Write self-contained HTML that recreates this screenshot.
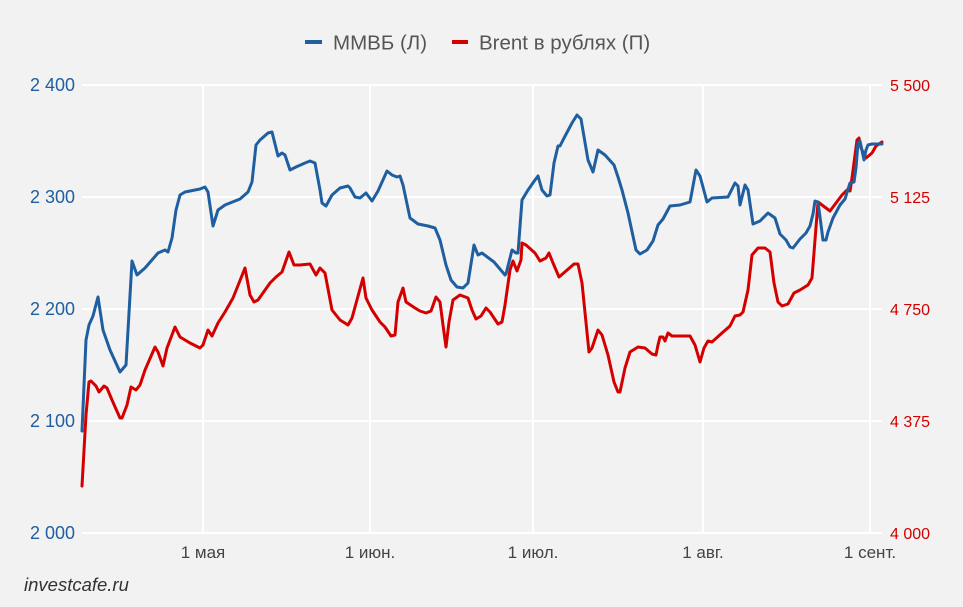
<!DOCTYPE html>
<html><head><meta charset="utf-8"><style>
html,body{margin:0;padding:0;background:#f2f2f2;}
svg{display:block;font-family:"Liberation Sans",sans-serif;}
</style></head><body>
<svg width="963" height="607" viewBox="0 0 963 607">
<rect width="963" height="607" fill="#f2f2f2"/>
<g stroke="#ffffff" stroke-width="2">
<line x1="82" y1="85" x2="882" y2="85"/>
<line x1="82" y1="197" x2="882" y2="197"/>
<line x1="82" y1="309" x2="882" y2="309"/>
<line x1="82" y1="421" x2="882" y2="421"/>
<line x1="82" y1="533" x2="882" y2="533"/>
<line x1="203" y1="85" x2="203" y2="533"/>
<line x1="370" y1="85" x2="370" y2="533"/>
<line x1="533" y1="85" x2="533" y2="533"/>
<line x1="703" y1="85" x2="703" y2="533"/>
<line x1="870" y1="85" x2="870" y2="533"/>
</g>
<g fill="#1f5fa0" font-size="18" text-anchor="end">
<text x="75" y="91">2 400</text><text x="75" y="203">2 300</text><text x="75" y="315">2 200</text><text x="75" y="427">2 100</text><text x="75" y="539">2 000</text>
</g>
<g fill="#d40000" font-size="16" text-anchor="start">
<text x="890" y="91">5 500</text><text x="890" y="203">5 125</text><text x="890" y="315">4 750</text><text x="890" y="427">4 375</text><text x="890" y="539">4 000</text>
</g>
<g fill="#444" font-size="17" text-anchor="middle">
<text x="203" y="558">1 мая</text><text x="370" y="558">1 июн.</text><text x="533" y="558">1 июл.</text><text x="703" y="558">1 авг.</text><text x="870" y="558">1 сент.</text>
</g>
<line x1="305" y1="42" x2="322" y2="42" stroke="#1f5fa0" stroke-width="4"/>
<text x="333" y="49.5" font-size="20.5" fill="#555">ММВБ (Л)</text>
<line x1="452" y1="42" x2="468" y2="42" stroke="#d40000" stroke-width="4"/>
<text x="479" y="49.5" font-size="20.5" fill="#555">Brent в рублях (П)</text>
<text x="24" y="591" font-size="18.5" font-style="italic" fill="#333">investcafe.ru</text>
<g fill="none" stroke-width="3" stroke-linejoin="round" stroke-linecap="round">
<polyline stroke="#d40000" points="82,486 86,415 89,382 91,381 96,386 99,392 104,386 107,388 112,400 120,418 122,418 127,405 131,387 136,390 140,385 145,370 155,347 158,352 163,366 167,348 175,327 180,337 190,343 200,348 203,345 208,330 212,336 218,323 225,312 233,298 245,268 250,295 254,302 258,300 270,283 276,277 282,272 289,252 294,265 300,265 310,264 316,275 320,268 325,273 332,310 340,320 348,325 352,318 363,278 366,298 372,310 380,322 385,327 391,336 395,335 398,302 403,288 406,302 415,308 420,311 426,313 431,311 436,297 440,302 443,325 446,347 449,322 453,300 460,295 468,298 472,310 476,319 481,316 486,308 490,312 494,318 498,324 502,322 505,305 510,270 513,261 517,271 521,260 522,243 526,245 535,253 540,261 546,258 549,253 553,263 559,277 566,271 574,264 578,264 582,283 589,352 592,348 598,330 602,335 608,355 614,382 618,392 620,392 625,368 630,352 638,347 645,348 652,354 656,355 658,345 660,337 663,337 665,341 668,333 672,336 676,336 690,336 695,345 700,362 704,348 708,341 712,342 722,333 730,326 735,316 740,315 743,312 748,290 752,255 758,248 765,248 770,252 774,283 778,302 782,306 788,304 794,293 800,290 808,285 812,278 818,202 830,211 842,195 847,190 850,191 852,178 857,140 859,138 861,148 866,158 872,153 876,146 882,142"/>
<polyline stroke="#1f5fa0" points="82,431 86,340 89,325 93,316 98,297 103,330 110,350 120,372 126,365 132,261 137,275 145,268 158,253 165,250 168,252 172,238 176,210 180,195 185,192 200,189 205,187 208,192 213,226 218,210 225,205 240,199 248,192 252,182 256,145 260,140 268,133 272,132 278,156 282,153 285,155 290,170 296,167 305,163 310,161 315,163 320,190 322,203 326,206 332,195 340,188 348,186 350,188 355,197 360,198 366,193 372,201 378,191 387,171 392,175 397,177 400,176 403,185 410,218 418,224 428,226 435,228 440,240 446,265 451,280 457,287 463,288 468,283 474,245 478,255 482,253 494,262 505,275 506,274 512,250 516,253 518,253 522,200 528,190 535,180 538,176 542,190 547,196 550,195 554,163 558,146 560,146 563,140 572,123 577,115 581,119 588,160 593,172 598,150 605,155 614,165 618,177 622,190 628,213 636,250 640,254 647,250 653,241 658,225 663,219 670,206 680,205 690,202 696,170 700,176 707,202 712,198 728,197 735,183 738,186 740,205 745,185 748,190 753,224 760,221 768,213 775,218 780,234 786,240 790,247 793,248 800,239 806,233 810,226 813,214 815,201 818,202 823,240 826,240 828,232 833,218 840,205 845,199 850,183 854,182 856,168 858,143 860,141 864,160 866,150 868,145 872,144 882,144"/>
</g>
</svg>
</body></html>
